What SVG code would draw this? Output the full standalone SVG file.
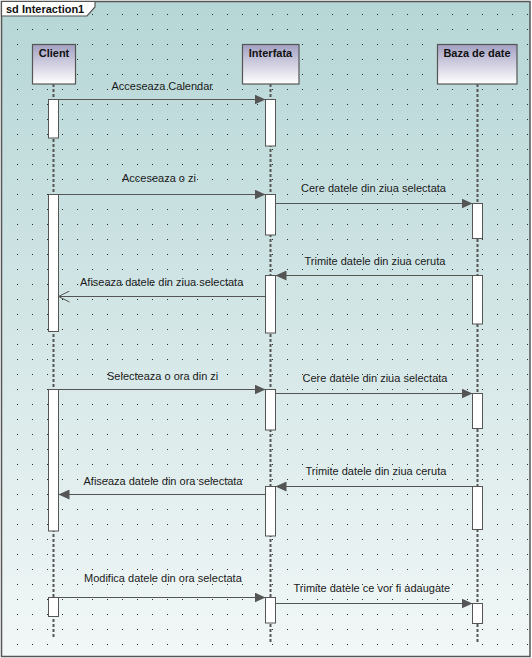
<svg xmlns="http://www.w3.org/2000/svg" width="532" height="658" viewBox="0 0 532 658">
<defs>
<linearGradient id="bg" x1="0" y1="0" x2="0" y2="1">
<stop offset="0" stop-color="#b6d6d6"/>
<stop offset="1" stop-color="#f2f7f7"/>
</linearGradient>
<linearGradient id="head" x1="0" y1="0" x2="0" y2="1">
<stop offset="0" stop-color="#a3a0c2"/>
<stop offset="1" stop-color="#ffffff"/>
</linearGradient>
<pattern id="dots" patternUnits="userSpaceOnUse" x="17" y="14" width="15" height="15">
<rect x="0" y="0" width="1" height="1" fill="#2a2a2a"/>
</pattern>
<marker id="fill" markerWidth="11" markerHeight="10" refX="11" refY="5" orient="auto" markerUnits="userSpaceOnUse">
<path d="M0,0 L11,5 L0,10 Z" fill="#555"/>
</marker>
<marker id="open" markerWidth="12" markerHeight="12" refX="11" refY="6" orient="auto" markerUnits="userSpaceOnUse">
<path d="M0,0.5 L11,6 L0,11.5" fill="none" stroke="#555" stroke-width="1"/>
</marker>
</defs>
<style>
.lbl{font-family:"Liberation Sans",Arial,sans-serif;font-size:11px;fill:#1a1a1a}
.hd{font-family:"Liberation Sans",Arial,sans-serif;font-size:11px;font-weight:bold;fill:#111;text-anchor:middle}
.head{fill:url(#head);stroke:#555;stroke-width:1.2}
.life{stroke:#555;stroke-width:2;stroke-dasharray:3 2;fill:none}
.bar{fill:#fff;stroke:#555;stroke-width:1}
.msg{stroke:#555;stroke-width:1;fill:none}
</style>
<g id="frame">
<rect x="1.5" y="1.5" width="528.5" height="655" fill="url(#bg)" stroke="#555" stroke-width="1.5"/>
<rect x="3" y="3" width="526" height="652" fill="url(#dots)"/>
<path d="M1.5,1.5 H95 V7 L87,16 H1.5 Z" fill="#fff" stroke="#555" stroke-width="1.2"/>
<text x="6" y="12.5" style="font-family:'Liberation Sans',Arial,sans-serif;font-size:11px;font-weight:bold;fill:#111">sd Interaction1</text>
</g>
<g id="client">
<line class="life" x1="53.5" y1="84" x2="53.5" y2="637"/>
<rect class="head" x="32.5" y="44.5" width="43" height="39.5"/>
<text class="hd" x="54" y="57">Client</text>
<rect class="bar" x="48.5" y="99.5" width="10" height="38.5"/>
<rect class="bar" x="48.5" y="194.5" width="10" height="137"/>
<rect class="bar" x="48.5" y="389.5" width="10" height="141.5"/>
<rect class="bar" x="48.5" y="597.5" width="10" height="19"/>
</g>
<g id="interfata">
<line class="life" x1="270.5" y1="84" x2="270.5" y2="643"/>
<rect class="head" x="242.5" y="44.5" width="56.5" height="39.5"/>
<text class="hd" x="270.5" y="57">Interfata</text>
<rect class="bar" x="265.5" y="99.5" width="10" height="46.5"/>
<rect class="bar" x="265.5" y="194.5" width="10" height="40.5"/>
<rect class="bar" x="265.5" y="275.5" width="10" height="57.5"/>
<rect class="bar" x="265.5" y="389.5" width="10" height="40.5"/>
<rect class="bar" x="265.5" y="486.5" width="10" height="49.5"/>
<rect class="bar" x="265.5" y="597.5" width="10" height="25.5"/>
</g>
<g id="baza">
<line class="life" x1="477.5" y1="84" x2="477.5" y2="643"/>
<rect class="head" x="437.5" y="44.5" width="79.5" height="39.5"/>
<text class="hd" x="477" y="57">Baza de date</text>
<rect class="bar" x="472.5" y="203.5" width="10" height="35"/>
<rect class="bar" x="472.5" y="275.5" width="10" height="48.5"/>
<rect class="bar" x="472.5" y="393.5" width="10" height="35"/>
<rect class="bar" x="472.5" y="486.5" width="10" height="43"/>
<rect class="bar" x="472.5" y="603.5" width="10" height="20"/>
</g>
<g id="connectors">
<line class="msg" x1="58.5" y1="99.5" x2="265.5" y2="99.5" marker-end="url(#fill)"/>
<text class="lbl" x="111.5" y="90">Acceseaza Calendar</text>
<line class="msg" x1="58.5" y1="194.5" x2="265.5" y2="194.5" marker-end="url(#fill)"/>
<text class="lbl" x="122" y="181.5">Acceseaza o zi</text>
<line class="msg" x1="275.5" y1="203.5" x2="472.5" y2="203.5" marker-end="url(#fill)"/>
<text class="lbl" x="301" y="191.5">Cere datele din ziua selectata</text>
<line class="msg" x1="472.5" y1="275.5" x2="275.5" y2="275.5" marker-end="url(#fill)"/>
<text class="lbl" x="304.5" y="265">Trimite datele din ziua ceruta</text>
<line class="msg" x1="265.5" y1="296.5" x2="58.5" y2="296.5" marker-end="url(#open)"/>
<text class="lbl" x="80" y="286">Afiseaza datele din ziua selectata</text>
<line class="msg" x1="58.5" y1="389.5" x2="265.5" y2="389.5" marker-end="url(#fill)"/>
<text class="lbl" x="107" y="380">Selecteaza o ora din zi</text>
<line class="msg" x1="275.5" y1="393.5" x2="472.5" y2="393.5" marker-end="url(#fill)"/>
<text class="lbl" x="302.5" y="381.5">Cere datele din ziua selectata</text>
<line class="msg" x1="472.5" y1="486.5" x2="275.5" y2="486.5" marker-end="url(#fill)"/>
<text class="lbl" x="305.5" y="475">Trimite datele din ziua ceruta</text>
<line class="msg" x1="265.5" y1="494.5" x2="58.5" y2="494.5" marker-end="url(#fill)"/>
<text class="lbl" x="83.5" y="485">Afiseaza datele din ora selectata</text>
<line class="msg" x1="58.5" y1="597.5" x2="265.5" y2="597.5" marker-end="url(#fill)"/>
<text class="lbl" x="84" y="581.5">Modifica datele din ora selectata</text>
<line class="msg" x1="275.5" y1="603.5" x2="472.5" y2="603.5" marker-end="url(#fill)"/>
<text class="lbl" x="293.5" y="591.5">Trimite datele ce vor fi adaugate</text>
</g>
</svg>
